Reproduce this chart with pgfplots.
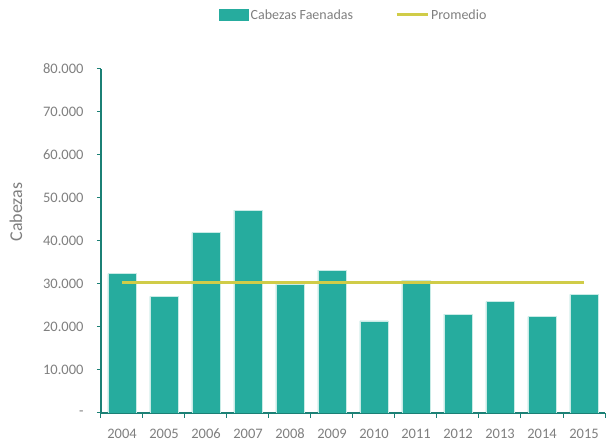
\documentclass[border=0pt]{standalone}
\usepackage{fontspec}
\setmainfont{Carlito}
\usepackage{pgfplots}
\pgfplotsset{compat=1.18}
\definecolor{barc}{RGB}{38,172,158}
\definecolor{baredge}{RGB}{200,235,230}
\definecolor{axc}{RGB}{27,128,117}
\definecolor{avgc}{RGB}{208,204,72}
\definecolor{txt}{RGB}{127,127,127}
\begin{document}
\begin{tikzpicture}
\begin{axis}[
  name=ax,
  scale only axis,
  width=504pt, height=344pt,
  xmin=-0.5, xmax=11.5,
  ymin=0, ymax=80000,
  enlargelimits=false,
  axis x line*=bottom,
  axis y line*=left,
  axis line style={draw=axc, line width=1.5pt, -},
  tick align=outside,
  xtick={0,...,11},
  xticklabels={2004,2005,2006,2007,2008,2009,2010,2011,2012,2013,2014,2015},
  major x tick style={draw=none},
  minor xtick={-0.5,0.5,...,11.5},
  minor x tick style={draw=axc, line width=1pt},
  minor tick length=5pt,
  ytick={0,10000,...,80000},
  yticklabels={-\hspace{6pt},10.000,20.000,30.000,40.000,50.000,60.000,70.000,80.000},
  scaled y ticks=false,
  major y tick style={draw=axc, line width=1pt},
  major tick length=4pt,
  tick label style={font=\fontsize{14.5}{16}\selectfont, text=txt},
  y tick label style={xshift=-10pt},
  x tick label style={anchor=base, yshift=-22pt},
  ylabel={Cabezas},
  every axis y label/.append style={at={(axis description cs:-0.169,0.584)}, anchor=center, font=\fontsize{18}{20}\selectfont, text=txt},
  legend style={draw=none, fill=none, legend columns=2,
    at={(axis description cs:0.234,1.157)}, anchor=west,
    font=\fontsize{14}{16}\selectfont, text=txt,
    /tikz/every even column/.append style={column sep=40pt},
    inner sep=0pt},
  legend cell align=left,
]
\addplot[ybar, bar width=0.67, fill=barc, draw=baredge, line width=0.6pt,
  legend image code/.code={\fill[barc] (0pt,-5.5pt) rectangle (29pt,5.5pt);}]
  coordinates {(0,32400) (1,27100) (2,41950) (3,47200) (4,30000) (5,33200)
               (6,21400) (7,30900) (8,23000) (9,25900) (10,22400) (11,27600)};
\addlegendentry{Cabezas Faenadas}
\addplot[avgc, line width=3pt, sharp plot,
  legend image code/.code={\draw[avgc, line width=3pt] (0pt,0pt) -- (31pt,0pt);}]
  coordinates {(0,30270) (11,30270)};
\addlegendentry{Promedio}
\end{axis}
\pgfresetboundingbox
\path[use as bounding box] (ax.south west) ++(-101pt,-30pt) rectangle ++(606pt,443pt);
\end{tikzpicture}
\end{document}
